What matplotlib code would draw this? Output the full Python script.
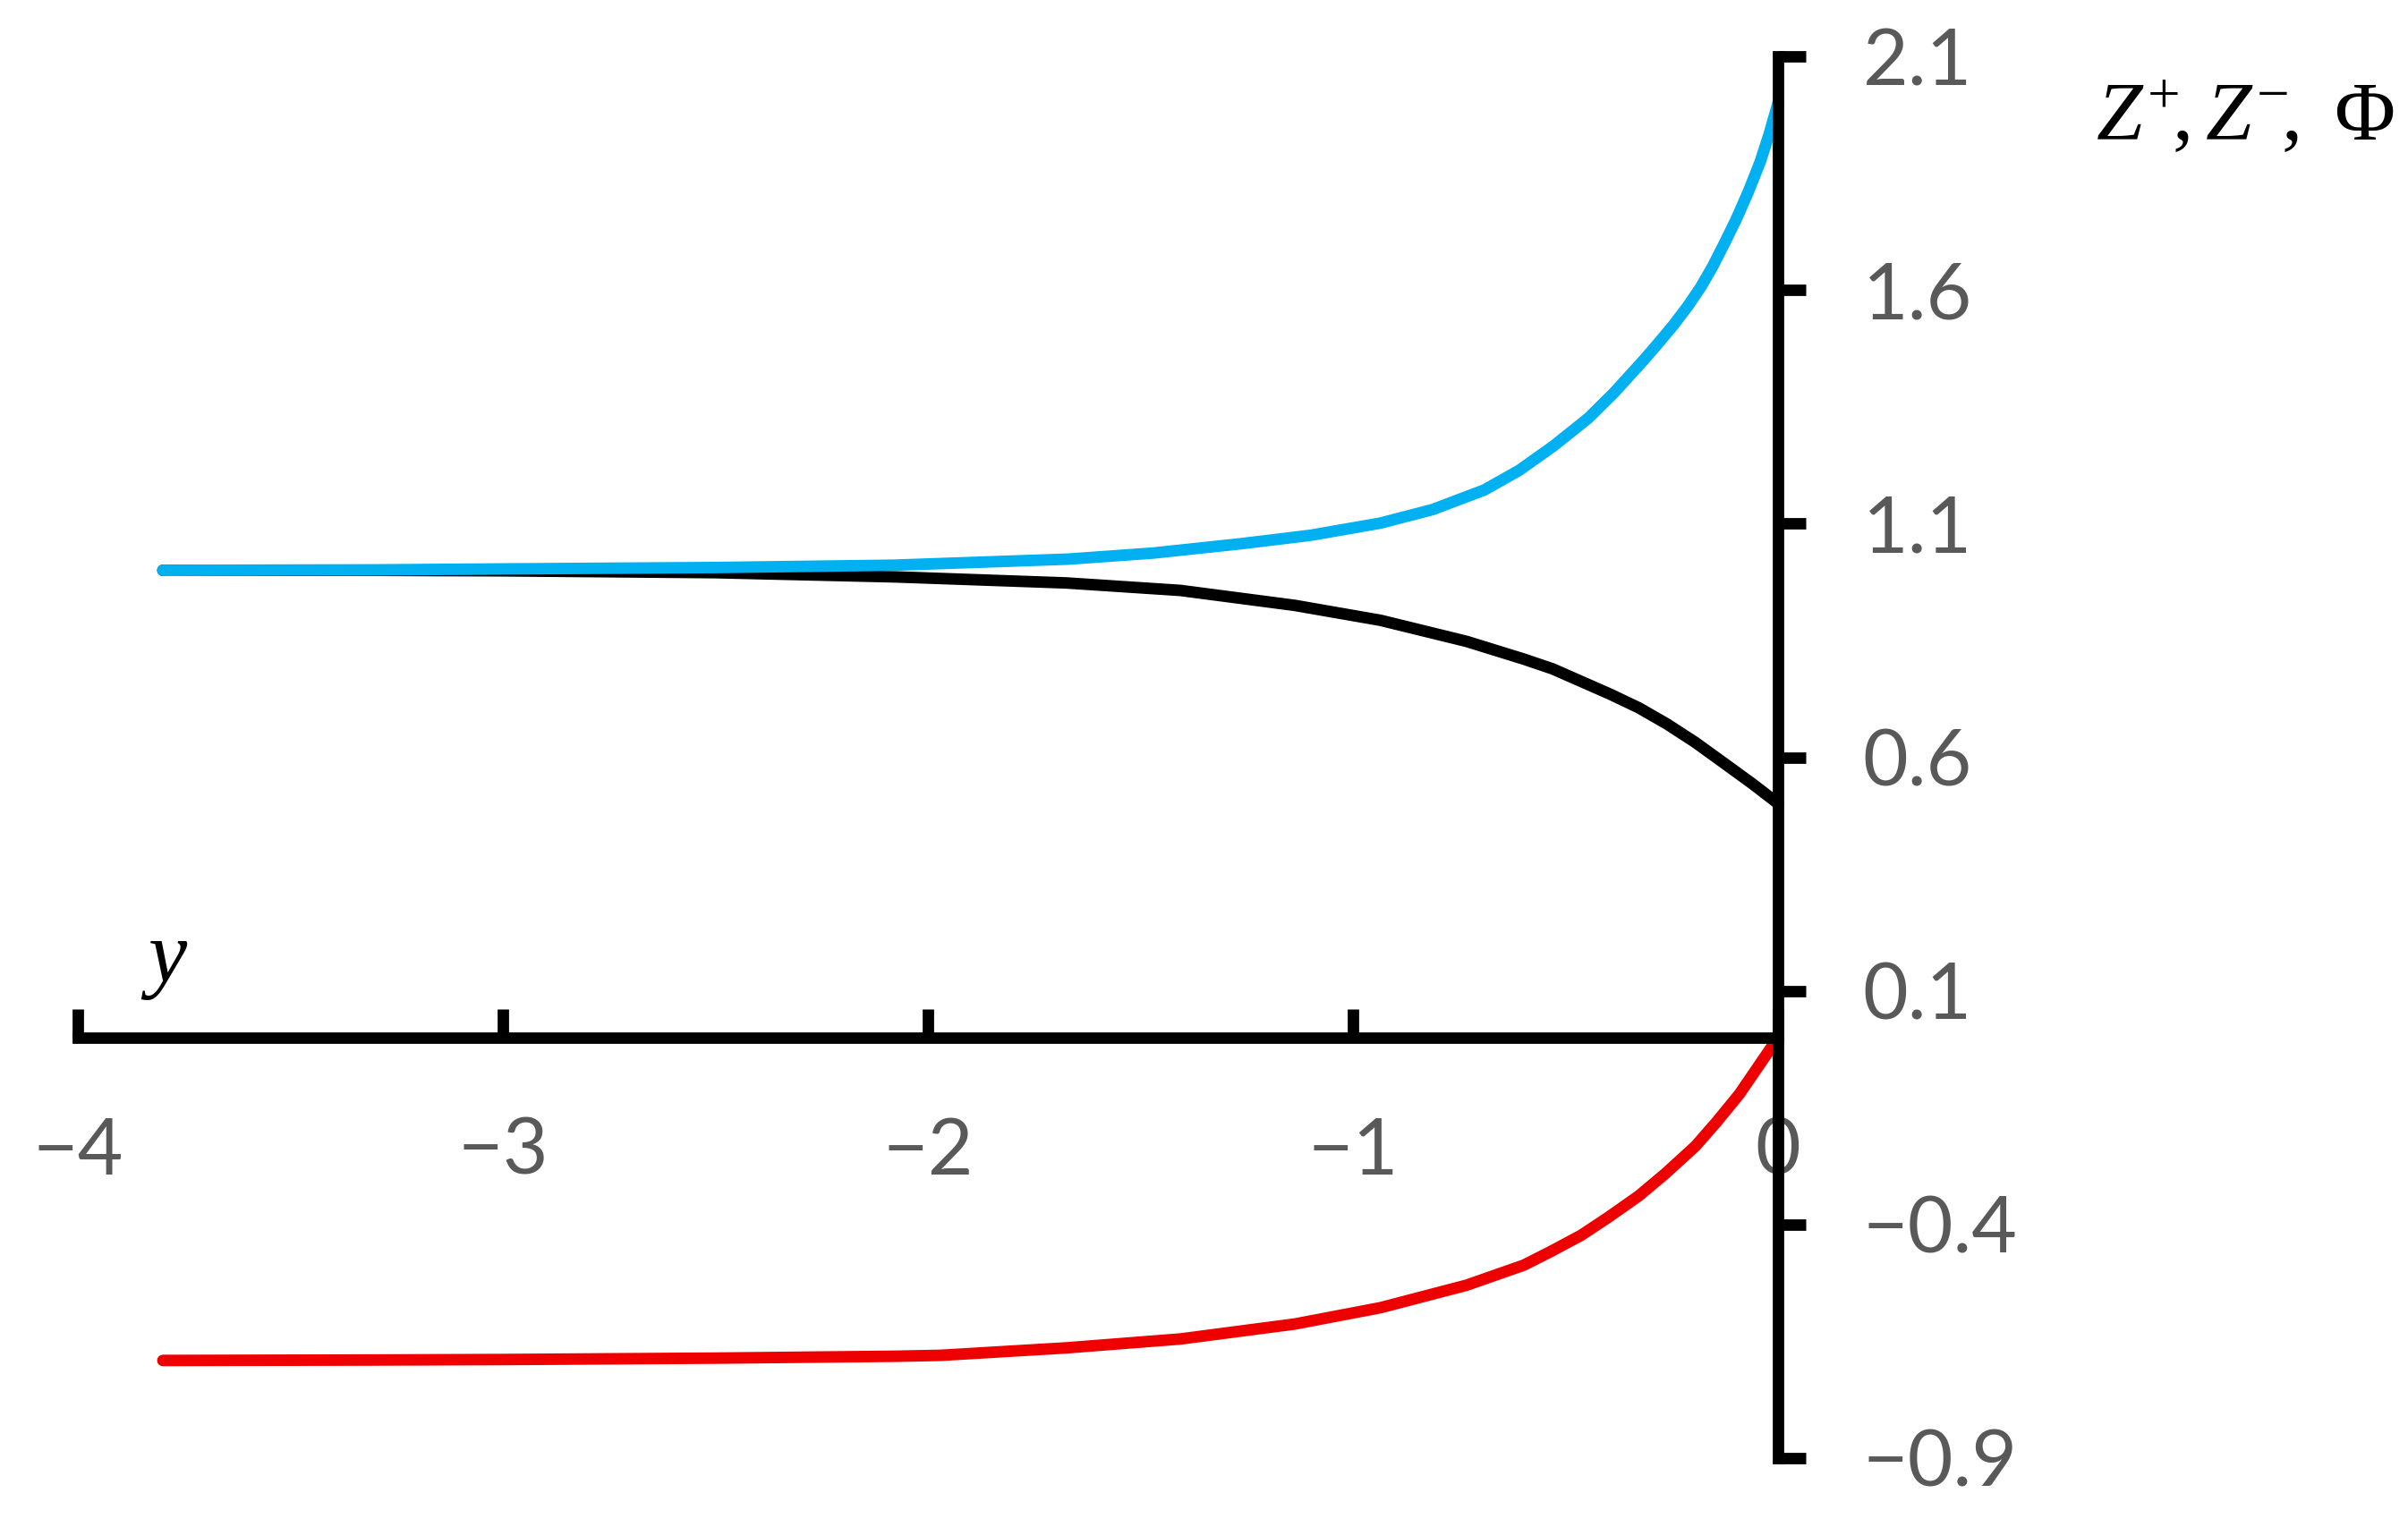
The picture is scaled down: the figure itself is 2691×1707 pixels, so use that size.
import matplotlib
matplotlib.use("Agg")
import matplotlib.pyplot as plt

# valeurs
blue_x = [-3.8, -3.3, -3.0, -2.5, -2.08, -1.67, -1.47, -1.263, -1.10, -0.936, -0.813, -0.691, -0.609,
          -0.527, -0.446, -0.386, -0.351, -0.316, -0.281, -0.246, -0.211, -0.182, -0.154,
          -0.126, -0.098, -0.070, -0.042, -0.021, 0.0]
blue_y = [1.000, 1.001, 1.003, 1.006, 1.011, 1.024, 1.037, 1.057, 1.075, 1.101, 1.130, 1.172, 1.214,
          1.267, 1.326, 1.380, 1.415, 1.450, 1.487, 1.525, 1.567, 1.606, 1.650,
          1.700, 1.752, 1.810, 1.874, 1.933, 2.0]

black_x = [-3.8, -3.3, -3.0, -2.5, -2.078, -1.674, -1.406, -1.137, -0.935, -0.733, -0.598, -0.530,
           -0.395, -0.328, -0.261, -0.195, -0.128, -0.060, 0.0]
black_y = [1.000, 1.000, 0.999, 0.995, 0.986, 0.973, 0.957, 0.925, 0.893, 0.848, 0.810, 0.789,
           0.735, 0.706, 0.671, 0.632, 0.588, 0.543, 0.501]

red_x = [-3.8, -3.3, -3.0, -2.5, -2.078, -1.97, -1.674, -1.406, -1.137, -0.935, -0.733, -0.598, -0.535,
         -0.463, -0.40, -0.328, -0.265, -0.194, -0.145, -0.091, 0.0]
red_y = [-0.691, -0.690, -0.689, -0.686, -0.682, -0.680, -0.664, -0.645, -0.613, -0.578, -0.530, -0.487, -0.458,
         -0.423, -0.385, -0.339, -0.291, -0.232, -0.181, -0.121, 0.0]

x_ticks = [-4, -3, -2, -1, 0]
y_ticks = [-0.9, -0.4, 0.1, 0.6, 1.1, 1.6, 2.1]

plt.rcParams['mathtext.fontset'] = 'custom'
plt.rcParams['mathtext.rm'] = 'Liberation Serif'
plt.rcParams['mathtext.it'] = 'Liberation Serif:italic'

fig = plt.figure(figsize=(26.91, 17.07), dpi=100)
ax = fig.add_axes([87 / 2691, 77 / 1707, 1900 / 2691, 1567 / 1707])

lw = 9.3
for xs, ys, c in [(black_x, black_y, 'black'), (blue_x, blue_y, '#00B0F0'), (red_x, red_y, '#EE0000')]:
    ax.plot(xs, ys, color=c, lw=lw, solid_capstyle='round', solid_joinstyle='round', clip_on=False)

ax.set_xlim(-4, 0)
ax.set_ylim(-0.9, 2.1)

ax.spines['left'].set_visible(False)
ax.spines['top'].set_visible(False)
ax.spines['bottom'].set_position(('data', 0))
for s in ['bottom', 'right']:
    ax.spines[s].set_linewidth(9.2)
    ax.spines[s].set_color('black')

ax.set_xticks(x_ticks)
ax.set_xticklabels([str(v).replace('-', '\u2212') for v in x_ticks])
ax.set_yticks(y_ticks)
ax.set_yticklabels([f"{v:.1f}".replace('-', '\u2212') for v in y_ticks])

ax.yaxis.tick_right()
ax.tick_params(axis='y', direction='out', length=22, width=9.2, pad=46,
               labelsize=63, labelcolor='#595959', color='black')
ax.tick_params(axis='x', direction='in', length=23, width=9.2, pad=64,
               labelsize=63, labelcolor='#595959', color='black')
for lab in ax.get_xticklabels() + ax.get_yticklabels():
    lab.set_fontfamily('Lato')

fig.text(2342 / 2691, 1 - 157 / 1707, r'$Z^{+}\!,Z^{-}\!,\ \Phi$', fontsize=67,
         ha='left', va='baseline', color='black')
fig.text(157 / 2691, 1 - 1097 / 1707, r'$y$', fontsize=70,
         ha='left', va='baseline', color='black')

fig.savefig('out.png', dpi=100)
